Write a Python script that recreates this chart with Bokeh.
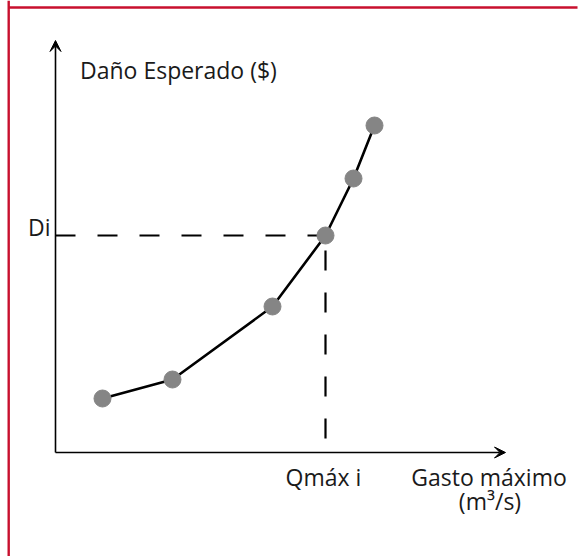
from bokeh.plotting import figure
from bokeh.models import Range1d, Arrow, VeeHead, Label, Span
from bokeh.embed import file_html
from bokeh.resources import INLINE

# Data (arbitrary units)
gasto = [4.7, 11.7, 21.7, 27.0, 29.8, 31.9]
dano = [5.4, 7.3, 14.6, 21.7, 27.4, 32.7]
q_i = 27.0
d_i = 21.7
y_label = "Daño Esperado ($)"
x_label_1 = "Gasto máximo"
x_label_2 = "(m³/s)"
q_label = "Qmáx i"
d_label = "Di"

FONT = "Open Sans"
FS = "23px"
TXT = "#1a1a1a"
SH = 0.85  # baseline compensation (data units)

W, H = 579, 556
p = figure(width=W, height=H, output_backend="svg", toolbar_location=None,
           x_range=Range1d(-5.5, (W - 55) / 10), y_range=Range1d((452 - H) / 10, 45.2),
           min_border=0)
p.axis.visible = False
p.grid.visible = False
p.outline_line_color = None
p.background_fill_color = "white"
p.border_fill_color = "white"

# red frame (left and top)
p.add_layout(Span(location=-4.68, dimension="height", line_color="#c8102e", line_width=2.4))
p.segment(x0=[-4.68], y0=[44.5], x1=[52.2], y1=[44.5], line_color="#c8102e", line_width=2.4)

# axes with arrows
p.add_layout(Arrow(end=VeeHead(size=11, fill_color="black", line_color="black"),
                   x_start=0, y_start=0, x_end=0, y_end=41.2,
                   line_color="black", line_width=1.6))
p.add_layout(Arrow(end=VeeHead(size=11, fill_color="black", line_color="black"),
                   x_start=0, y_start=0, x_end=45.0, y_end=0,
                   line_color="black", line_width=1.6))

# dashed guides
p.line([0, q_i], [d_i, d_i], line_color="black", line_width=2.2, line_dash="20 22")
p.line([q_i, q_i], [1.4, d_i], line_color="black", line_width=2.2, line_dash="20 22")

# curve
p.line(gasto, dano, line_color="black", line_width=2.6)
p.scatter(gasto, dano, size=17, fill_color="#858585", line_color="#858585")

# texts
p.add_layout(Label(x=2.45, y=37.4 + SH, text=y_label, text_font=FONT, text_font_size=FS,
                   text_color=TXT, text_baseline="alphabetic"))
p.add_layout(Label(x=-0.5, y=21.5 + SH + 0.2, text=d_label, text_font=FONT, text_font_size=FS,
                   text_color=TXT, text_align="right", text_baseline="alphabetic"))
p.add_layout(Label(x=q_i - 0.2, y=-3.3 + SH, text=q_label, text_font=FONT, text_font_size=FS,
                   text_color=TXT, text_align="center", text_baseline="alphabetic"))
p.add_layout(Label(x=43.35, y=-3.3 + SH, text=x_label_1, text_font=FONT, text_font_size=FS,
                   text_color=TXT, text_align="center", text_baseline="alphabetic"))
p.add_layout(Label(x=43.45, y=-5.7 + SH, text=x_label_2, text_font=FONT, text_font_size=FS,
                   text_color=TXT, text_align="center", text_baseline="alphabetic"))

open("out.html", "w").write(file_html(p, INLINE))
